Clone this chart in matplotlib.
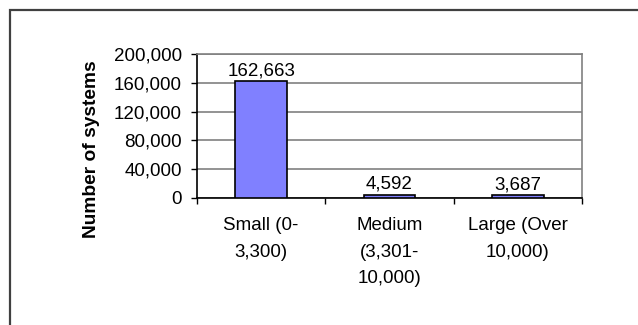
import matplotlib
matplotlib.use("Agg")
import matplotlib.pyplot as plt
from matplotlib.patches import Rectangle
from matplotlib.ticker import FuncFormatter, FixedLocator

# system counts by size class
categories = ["Small (0-\n3,300)", "Medium\n(3,301-\n10,000)", "Large (Over\n10,000)"]
systems = [162663, 4592, 3687]
y_ticks = [0, 40000, 80000, 120000, 160000, 200000]

plt.rcParams['font.family'] = ['Liberation Sans', 'DejaVu Sans']
fs = 13.5

fig = plt.figure(figsize=(6.38, 3.25), dpi=100)
ax = fig.add_axes([197 / 638, 1 - 198 / 325, (582 - 197) / 638, (198 - 54) / 325])

x = range(len(systems))
bars = ax.bar(x, systems, width=0.4, color="#8080FF", edgecolor="black", linewidth=1.2, zorder=3)

for b, v in zip(bars, systems):
    ax.text(b.get_x() + b.get_width() / 2, v + 2500, f"{v:,}", ha="center", va="bottom",
            fontsize=fs, zorder=4)

ax.set_xlim(-0.5, 2.5)
ax.set_ylim(0, 200000)
ax.set_yticks(y_ticks)
ax.yaxis.set_major_formatter(FuncFormatter(lambda v, p: f"{int(v):,}"))
ax.yaxis.grid(True, color="#808080", linewidth=1.2, zorder=0)
ax.tick_params(axis="y", labelsize=fs, length=4.5, width=1, pad=6.5, direction="out")

# category labels centred under the bars, tick marks between the categories
ax.set_xticks(list(x))
ax.set_xticklabels(categories, fontsize=fs, linespacing=1.7, va="top")
ax.tick_params(axis="x", which="major", length=0, pad=14)
ax.xaxis.set_minor_locator(FixedLocator([-0.5, 0.5, 1.5, 2.5]))
ax.tick_params(axis="x", which="minor", length=4.5, width=1, direction="out")

for s in ["top", "right"]:
    ax.spines[s].set_color("#808080")
    ax.spines[s].set_linewidth(1.2)
for s in ["left", "bottom"]:
    ax.spines[s].set_color("black")
    ax.spines[s].set_linewidth(1.2)

fig.text(91 / 638, 1 - 149 / 325, "Number of systems", rotation=90, ha="center", va="center",
         fontsize=13.8, fontweight="bold")

# outer chart frame running off the right and bottom edges
fig.add_artist(Rectangle((10 / 638, -0.2), 1.2, 1 - 10 / 325 + 0.2, transform=fig.transFigure,
                         fill=False, edgecolor="#404040", linewidth=1.6, clip_on=False))

fig.savefig("out.png", dpi=100)
